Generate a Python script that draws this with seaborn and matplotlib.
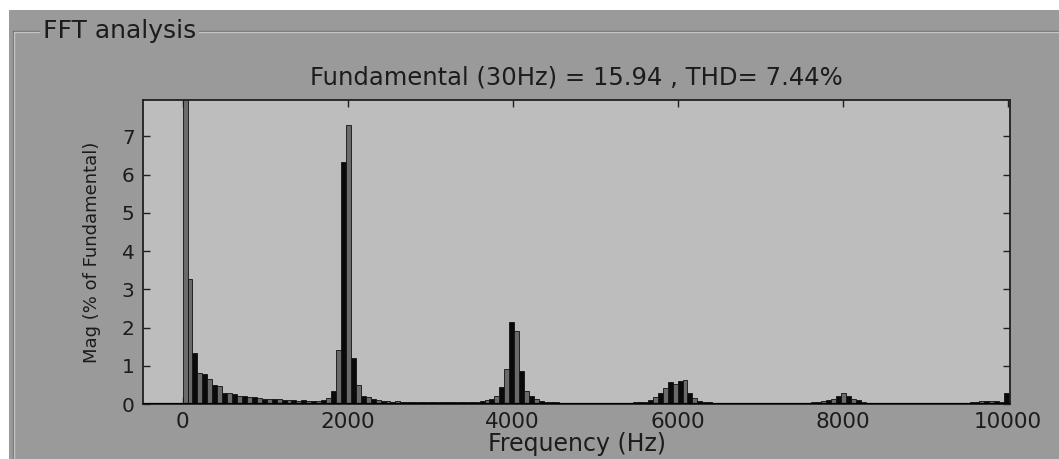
import numpy as np
import pandas as pd
import matplotlib
matplotlib.use("Agg")
import matplotlib.pyplot as plt
import seaborn as sns
from matplotlib.lines import Line2D
from matplotlib.patches import Rectangle

# harmonic bins (odd harmonics of the 30 Hz fundamental)
fundamental_hz = 30
harmonic_order = np.arange(1, 334, 2)

# magnitude in % of fundamental
mag_pct = [
    100, 3.26, 1.34, 0.80, 0.78, 0.66, 0.50, 0.47, 0.30, 0.28,
    0.27, 0.22, 0.21, 0.18, 0.17, 0.15, 0.14, 0.13, 0.12, 0.12,
    0.11, 0.10, 0.10, 0.09, 0.10, 0.08, 0.09, 0.08, 0.10, 0.15,
    0.35, 1.40, 6.34, 7.29, 1.20, 0.50, 0.20, 0.17, 0.12, 0.10,
    0.08, 0.07, 0.06, 0.07, 0.06, 0.05, 0.06, 0.05, 0.04, 0.05,
    0.06, 0.04, 0.05, 0.04, 0.06, 0.05, 0.04, 0.06, 0.05, 0.06,
    0.07, 0.10, 0.12, 0.20, 0.45, 0.92, 2.15, 1.92, 0.85, 0.35,
    0.20, 0.12, 0.08, 0.06, 0.05, 0.04, 0.02, 0.01, 0.01, 0.01,
    0.01, 0.01, 0.01, 0.01, 0.01, 0.01, 0.01, 0.01, 0.02, 0.03,
    0.03, 0.04, 0.04, 0.06, 0.10, 0.18, 0.30, 0.42, 0.58, 0.52,
    0.60, 0.63, 0.30, 0.15, 0.08, 0.05, 0.04, 0.03, 0.01, 0.01,
    0.01, 0.01, 0.01, 0.01, 0.01, 0.01, 0.01, 0.01, 0.01, 0.01,
    0.01, 0.01, 0.01, 0.01, 0.01, 0.01, 0.02, 0.04, 0.05, 0.08,
    0.10, 0.14, 0.20, 0.30, 0.22, 0.14, 0.10, 0.06, 0.03, 0.01,
    0.01, 0.01, 0.01, 0.01, 0.01, 0.01, 0.01, 0.01, 0.01, 0.01,
    0.01, 0.01, 0.01, 0.01, 0.01, 0.01, 0.01, 0.01, 0.03, 0.05,
    0.06, 0.08, 0.07, 0.08, 0.07, 0.06, 0.30,
]

x_ticks = [0, 2000, 4000, 6000, 8000, 10000]
y_ticks = [0, 1, 2, 3, 4, 5, 6, 7]
title_txt = "Fundamental (30Hz) = 15.94 , THD= 7.44%"

idx = np.arange(len(mag_pct))
fft_df = pd.DataFrame({
    "freq": harmonic_order * fundamental_hz,
    "mag": mag_pct,
    # bars alternate dark / grey like the matlab render, fundamental is grey
    "shade": np.where(idx == 0, 1, idx % 2),
})

panel_gray = "#9a9a9a"
axes_gray = "#bdbdbd"
txt_col = "#1c1c1c"

sns.set_theme(style="ticks")
plt.rcParams["font.family"] = ["DejaVu Sans"]

W, H = 1059, 459
fig = plt.figure(figsize=(W / 100, H / 100), dpi=100, facecolor="white")

# the gui panel behind the axes
fig.add_artist(Rectangle((9 / W, 0), 1 - 9 / W, 1 - 10 / H, transform=fig.transFigure,
                         facecolor=panel_gray, edgecolor="none", zorder=0))

box_lbl = fig.text(43 / W, 1 - 31 / H, "FFT analysis", ha="left", va="center",
                   fontsize=18, color=txt_col, zorder=2)
fig.canvas.draw()
lbl_end = box_lbl.get_window_extent().x1 + 3

# etched group box
for dx, col in [(0, "#6e6e6e"), (1, "#c4c4c4")]:
    yy = 1 - (31 + dx) / H
    fig.add_artist(Line2D([(13 + dx) / W, 39 / W], [yy, yy], transform=fig.transFigure,
                          color=col, lw=1, zorder=1))
    fig.add_artist(Line2D([lbl_end / W, 1], [yy, yy], transform=fig.transFigure,
                          color=col, lw=1, zorder=1))
    fig.add_artist(Line2D([(13 + dx) / W] * 2, [yy, 0], transform=fig.transFigure,
                          color=col, lw=1, zorder=1))

ax = fig.add_axes([143 / W, 1 - 404 / H, (1010 - 143) / W, (404 - 100) / H])
ax.set_facecolor(axes_gray)

sns.barplot(data=fft_df, x="freq", y="mag", hue="shade", native_scale=True,
            palette={0: "#0a0a0a", 1: "#6a6a6a"}, dodge=False, width=1.0,
            edgecolor="#111111", linewidth=0.6, errorbar=None, legend=False, ax=ax)

ax.axhline(0, color="black", lw=1.6, zorder=5)
ax.set_xlim(-480, 10030)
ax.set_ylim(0, 7.95)
ax.set_xticks(x_ticks)
ax.set_yticks(y_ticks)
ax.set_xticklabels([str(t) for t in x_ticks])
ax.tick_params(direction="in", top=True, right=True, length=5, width=1,
               colors="#202020", labelcolor=txt_col, labelsize=15.5, pad=6)
ax.tick_params(axis="y", labelsize=14.5)
for s in ax.spines.values():
    s.set_visible(True)
    s.set_color("#202020")
    s.set_linewidth(1.3)

ax.set_xlabel("Frequency (Hz)", fontsize=17, color=txt_col, labelpad=0)
ax.set_ylabel("Mag (% of Fundamental)", fontsize=13, color=txt_col, labelpad=15)
ax.set_title(title_txt, fontsize=17.5, color=txt_col, pad=11)

fig.savefig("out.png", dpi=100, facecolor="white")
